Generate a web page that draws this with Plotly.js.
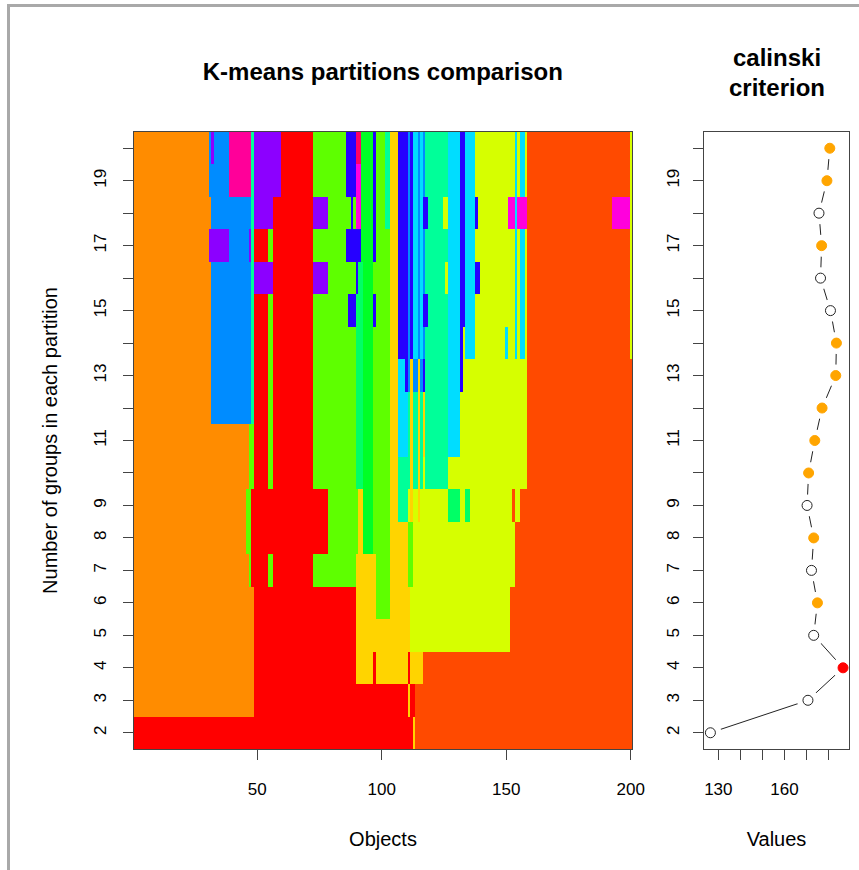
<!DOCTYPE html>
<html><head><meta charset="utf-8">
<script src="https://cdn.plot.ly/plotly-3.0.1.min.js"></script>
<style>
html,body{margin:0;padding:0;background:#fff;}
#chart{position:absolute;left:0;top:0;width:859px;height:870px;}
#frame{position:absolute;left:7px;top:4px;width:852px;height:866px;border-left:3px solid #a9a9a9;border-top:3px solid #a9a9a9;box-sizing:border-box;pointer-events:none;}
</style></head><body>
<div id="chart"></div><div id="frame"></div>
<script>
// ---- palette (cluster colours) ----
const paletteCodes  = ['O','R','OR','G','GR','GS','SG','Y','GD','C','DB','B','P','M','PK','PR'];
const paletteColors = ['#FF8C00','#FF0000','#FF4A00','#5EFF00','#00FF26','#00FF66','#00FF99','#D6FF00','#FFD400','#00DDFF','#008CFF','#2600FF','#8C00FF','#FF00DD','#FF0099','#FF0066'];

// ---- partitions: [first object of run, cluster colour] ----
const k2  = [[1,'R'],[113,'GD'],[114,'OR']];
const k3  = [[1,'O'],[49,'R'],[111,'GD'],[112,'R'],[114,'OR']];
const k4  = [[1,'O'],[49,'R'],[90,'GD'],[97,'R'],[98,'GD'],[111,'R'],[112,'GD'],[117,'OR']];
const k5  = [[1,'O'],[49,'R'],[90,'GD'],[112,'Y'],[152,'OR']];
const k6  = [[1,'O'],[49,'R'],[90,'GD'],[98,'G'],[104,'GD'],[112,'Y'],[152,'OR']];
const k7  = [[1,'O'],[47,'G'],[48,'R'],[55,'G'],[57,'R'],[73,'G'],[90,'GD'],[98,'G'],[104,'GD'],[111,'G'],[113,'Y'],[154,'OR']];
const k8  = [[1,'O'],[46,'G'],[48,'R'],[79,'G'],[91,'GD'],[93,'GR'],[97,'G'],[104,'GD'],[111,'G'],[113,'Y'],[154,'OR']];
const k9  = [[1,'O'],[46,'G'],[48,'R'],[79,'G'],[91,'GD'],[93,'GR'],[97,'G'],[104,'GD'],[107,'SG'],[111,'Y'],[112,'GD'],[113,'Y'],[115,'GD'],[116,'Y'],[127,'GS'],[132,'Y'],[134,'GS'],[136,'Y'],[153,'OR'],[154,'Y'],[156,'OR']];
const k10 = [[1,'O'],[47,'G'],[49,'R'],[55,'G'],[57,'R'],[73,'G'],[90,'GS'],[93,'GR'],[97,'G'],[104,'GD'],[107,'SG'],[112,'GD'],[113,'SG'],[115,'GD'],[116,'SG'],[117,'Y'],[118,'SG'],[127,'Y'],[159,'OR']];
const k11 = [[1,'O'],[47,'G'],[49,'R'],[55,'G'],[57,'R'],[73,'G'],[90,'GS'],[93,'GR'],[97,'G'],[104,'GD'],[107,'C'],[111,'SG'],[112,'GD'],[113,'SG'],[115,'GD'],[116,'SG'],[117,'GD'],[118,'SG'],[127,'C'],[132,'Y'],[159,'OR']];
const k12 = [[1,'O'],[32,'DB'],[48,'SG'],[49,'R'],[55,'G'],[57,'R'],[73,'G'],[90,'GS'],[93,'GR'],[97,'G'],[104,'GD'],[107,'C'],[111,'SG'],[112,'GD'],[113,'SG'],[115,'GD'],[116,'SG'],[117,'GD'],[118,'SG'],[127,'C'],[132,'Y'],[159,'OR']];
const k13 = [[1,'O'],[32,'DB'],[48,'SG'],[49,'R'],[55,'G'],[57,'R'],[73,'G'],[90,'GS'],[93,'GR'],[97,'G'],[104,'GD'],[107,'C'],[110,'B'],[111,'DB'],[112,'GD'],[113,'DB'],[115,'GD'],[116,'DB'],[117,'B'],[118,'SG'],[127,'C'],[132,'B'],[133,'Y'],[159,'OR']];
const k14 = [[1,'O'],[32,'DB'],[48,'SG'],[49,'R'],[55,'G'],[57,'R'],[73,'G'],[90,'GS'],[93,'GR'],[97,'G'],[104,'GD'],[107,'B'],[111,'DB'],[112,'B'],[113,'C'],[115,'DB'],[116,'C'],[117,'DB'],[118,'SG'],[127,'C'],[132,'B'],[133,'Y'],[134,'C'],[138,'Y'],[150,'C'],[151,'Y'],[154,'C'],[155,'Y'],[156,'C'],[158,'Y'],[159,'OR'],[200,'Y']];
const k15 = [[1,'O'],[32,'DB'],[48,'SG'],[49,'R'],[55,'G'],[57,'R'],[73,'G'],[87,'B'],[90,'GS'],[93,'GR'],[97,'B'],[98,'G'],[104,'GD'],[107,'B'],[111,'DB'],[112,'B'],[113,'C'],[115,'DB'],[116,'C'],[117,'B'],[119,'SG'],[127,'C'],[132,'B'],[134,'C'],[138,'Y'],[154,'C'],[155,'Y'],[156,'C'],[158,'Y'],[159,'OR'],[200,'Y']];
const k16 = [[1,'O'],[32,'DB'],[48,'SG'],[49,'P'],[57,'R'],[73,'P'],[79,'G'],[90,'B'],[91,'GS'],[93,'GR'],[97,'G'],[104,'GD'],[107,'B'],[111,'DB'],[112,'B'],[113,'C'],[115,'DB'],[116,'C'],[117,'DB'],[118,'SG'],[126,'Y'],[127,'C'],[132,'B'],[134,'C'],[138,'B'],[140,'Y'],[154,'C'],[155,'Y'],[156,'C'],[158,'Y'],[159,'OR'],[200,'Y']];
const k17 = [[1,'O'],[31,'P'],[39,'DB'],[47,'P'],[48,'SG'],[49,'R'],[55,'G'],[57,'R'],[73,'G'],[86,'B'],[92,'GR'],[97,'B'],[98,'G'],[104,'GD'],[107,'B'],[111,'DB'],[112,'B'],[113,'C'],[115,'DB'],[116,'C'],[117,'DB'],[118,'SG'],[127,'C'],[132,'B'],[134,'C'],[138,'Y'],[154,'C'],[155,'Y'],[156,'C'],[158,'Y'],[159,'OR'],[200,'Y']];
const k18 = [[1,'O'],[32,'DB'],[48,'SG'],[49,'P'],[57,'R'],[73,'P'],[79,'G'],[88,'B'],[89,'G'],[90,'M'],[92,'GR'],[97,'B'],[98,'G'],[102,'SG'],[104,'GD'],[107,'B'],[111,'DB'],[112,'B'],[113,'C'],[115,'DB'],[116,'C'],[117,'B'],[119,'SG'],[125,'Y'],[127,'C'],[132,'B'],[134,'C'],[138,'B'],[139,'Y'],[151,'M'],[154,'C'],[155,'M'],[159,'OR'],[193,'M'],[200,'Y']];
const k19 = [[1,'O'],[31,'DB'],[39,'PK'],[48,'SG'],[49,'P'],[60,'R'],[73,'G'],[86,'B'],[90,'M'],[92,'GR'],[97,'B'],[98,'G'],[102,'SG'],[104,'GD'],[107,'B'],[111,'DB'],[112,'B'],[113,'C'],[115,'DB'],[116,'C'],[117,'DB'],[118,'SG'],[127,'C'],[132,'B'],[134,'C'],[138,'Y'],[154,'C'],[155,'Y'],[156,'C'],[158,'Y'],[159,'OR'],[200,'Y']];
const k20 = [[1,'O'],[31,'DB'],[32,'P'],[33,'DB'],[39,'PK'],[48,'SG'],[49,'P'],[60,'R'],[73,'G'],[86,'B'],[90,'PR'],[92,'GR'],[97,'B'],[98,'G'],[102,'SG'],[104,'GD'],[107,'B'],[111,'DB'],[112,'B'],[113,'C'],[115,'DB'],[116,'C'],[117,'DB'],[118,'SG'],[127,'C'],[132,'B'],[134,'C'],[138,'Y'],[154,'C'],[155,'Y'],[156,'C'],[158,'Y'],[159,'OR'],[200,'Y']];

const nObjects = 200;
const groups = [2,3,4,5,6,7,8,9,10,11,12,13,14,15,16,17,18,19,20];
const groupTickText = ['2','3','4','5','6','7','8','9','','11','','13','','15','','17','','19',''];
const objectTicks = [50,100,150,200];

// ---- calinski criterion ----
const calinski = [126.4,170.6,186.5,173.2,174.9,172.2,173.2,170.2,170.9,173.7,177.0,183.2,183.5,180.8,176.3,176.8,175.6,179.2,180.5];
const pointFill = ['white','white','red','white','orange','white','orange','white','orange','orange','orange','orange','orange','white','white','orange','white','orange','orange'];
const valueTicks = [130,140,150,160,170,180];
const valueTickText = ['130','','','160','',''];

// ---- build heatmap matrix from runs ----
const partitions = [k2,k3,k4,k5,k6,k7,k8,k9,k10,k11,k12,k13,k14,k15,k16,k17,k18,k19,k20];
const objects = Array.from({length:nObjects},(_,i)=>i+1);
const codeIndex = {}; paletteCodes.forEach((c,i)=>codeIndex[c]=i);
const z = partitions.map(segs=>{
  const row=[];
  segs.forEach((s,i)=>{
    const end = i+1<segs.length ? segs[i+1][0]-1 : nObjects;
    for(let o=s[0];o<=end;o++) row.push(codeIndex[s[1]]);
  });
  return row;
});
const N = paletteColors.length;
const colorscale = [];
paletteColors.forEach((c,i)=>{ colorscale.push([i/N,c]); colorscale.push([(i+1)/N,c]); });

const traces = [
  {type:'heatmap', x:objects, y:groups, z:z, colorscale:colorscale, zmin:-0.5, zmax:N-0.5,
   showscale:false, zsmooth:false, hoverinfo:'skip', xaxis:'x', yaxis:'y'},
  {type:'scatter', mode:'lines', x:calinski, y:groups, line:{color:'#222',width:1},
   hoverinfo:'skip', xaxis:'x2', yaxis:'y2'},
  {type:'scatter', mode:'markers', x:calinski, y:groups, marker:{size:22,color:'white',line:{width:0}},
   hoverinfo:'skip', xaxis:'x2', yaxis:'y2'},
  {type:'scatter', mode:'markers', x:calinski, y:groups,
   marker:{size:10,color:pointFill,line:{width:1,color:pointFill.map(c=>c==='white'?'#222':c)}},
   hoverinfo:'skip', xaxis:'x2', yaxis:'y2'}
];

const axisCommon = {showgrid:false, zeroline:false, showline:true, mirror:true, linecolor:'#444', linewidth:1,
  ticks:'outside', ticklen:10, tickcolor:'#444', tickfont:{size:17,color:'#000'}};

const layout = {
  width:859, height:870,
  margin:{l:134,r:10,t:132,b:121,pad:0},
  paper_bgcolor:'#fff', plot_bgcolor:'#fff',
  font:{family:'Liberation Sans, Arial, sans-serif', size:17, color:'#000'},
  showlegend:false,
  title:{text:'<b>K-means partitions comparison</b>', font:{size:24}, xref:'paper', x:0.348, xanchor:'center', yref:'container', y:1-72/870, yanchor:'middle'},
  xaxis:Object.assign({}, axisCommon, {domain:[0,0.6965], range:[0.5,200.5], tickvals:objectTicks, ticklabelstandoff:15,
    title:{text:'Objects', font:{size:20}, standoff:33}}),
  yaxis:Object.assign({}, axisCommon, {domain:[0,1], range:[1.5,20.5], tickvals:groups, ticktext:groupTickText, tickangle:-90, ticklabelstandoff:10,
    title:{text:'Number of groups in each partition', font:{size:20}, standoff:28}}),
  xaxis2:Object.assign({}, axisCommon, {domain:[0.7972,1], anchor:'y2', range:[123.5,189.2], tickvals:valueTicks, ticktext:valueTickText, ticklabelstandoff:15,
    title:{text:'Values', font:{size:20}, standoff:33}}),
  yaxis2:Object.assign({}, axisCommon, {domain:[0,1], anchor:'x2', range:[1.5,20.5], tickvals:groups, ticktext:groupTickText, tickangle:-90, ticklabelstandoff:7}),
  annotations:[
    {text:'<b>calinski</b>', xref:'paper', yref:'paper', x:(776.5-134)/715, y:(749-58)/617, xanchor:'center', yanchor:'middle', showarrow:false, font:{size:24}},
    {text:'<b>criterion</b>', xref:'paper', yref:'paper', x:(776.5-134)/715, y:(749-87)/617, xanchor:'center', yanchor:'middle', showarrow:false, font:{size:24}}
  ]
};

Plotly.newPlot('chart', traces, layout, {displayModeBar:false, staticPlot:true});
</script></body></html>
